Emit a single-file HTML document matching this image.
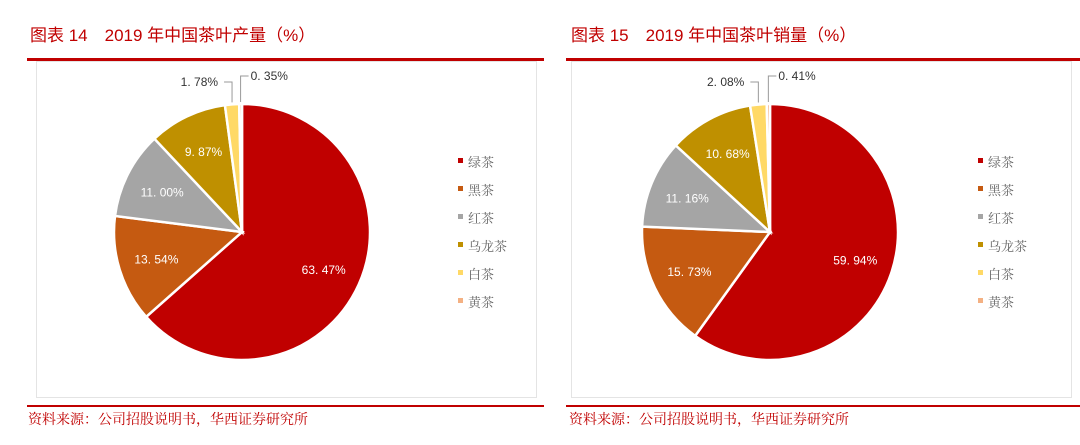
<!DOCTYPE html>
<html><head><meta charset="utf-8">
<style>
body{margin:0;background:#fff;width:1080px;height:445px;overflow:hidden;font-family:"Liberation Sans","Noto Sans CJK SC",sans-serif}
svg{position:absolute;left:0;top:0}
</style></head><body>
<svg width="1080" height="445" viewBox="0 0 1080 445" id="root">
<g>
<text x="30" y="41" font-size="17" fill="#C00000" font-family="'Liberation Sans','Noto Sans CJK SC',sans-serif">图表 14　2019 年中国茶叶产量（%）</text>
<rect x="27" y="58" width="517" height="3" fill="#C00000"/>
<rect x="36.5" y="61.5" width="500" height="336" fill="#fff" stroke="#e4e4e4"/>
<rect x="27" y="405" width="517" height="2" fill="#C00000"/>
<text x="28" y="424" font-size="14" fill="#C00000" font-family="'Noto Serif CJK SC',serif">资料来源：公司招股说明书，华西证券研究所</text>
<g id="pie1"></g>
</g>
<g>
<text x="571" y="41" font-size="17" fill="#C00000" font-family="'Liberation Sans','Noto Sans CJK SC',sans-serif">图表 15　2019 年中国茶叶销量（%）</text>
<rect x="566" y="58" width="514" height="3" fill="#C00000"/>
<rect x="571.5" y="61.5" width="500" height="336" fill="#fff" stroke="#e4e4e4"/>
<rect x="566" y="405" width="514" height="2" fill="#C00000"/>
<text x="569" y="424" font-size="14" fill="#C00000" font-family="'Noto Serif CJK SC',serif">资料来源：公司招股说明书，华西证券研究所</text>
<g id="pie2"></g>
</g>
</svg>
<script>
const categories = ["绿茶","黑茶","红茶","乌龙茶","白茶","黄茶"];
const productionValues = [63.47,13.54,11.00,9.87,1.78,0.35];
const salesValues = [59.94,15.73,11.16,10.68,2.08,0.41];
const colors = ["#C00000","#C55A11","#A5A5A5","#BF9000","#FFD966","#F4B183"];
const NS="http://www.w3.org/2000/svg";
function mk(t,a){const e=document.createElementNS(NS,t);for(const k in a)e.setAttribute(k,a[k]);return e;}
function fmt(v){return v.toFixed(2).replace('.', '. ')+'%';}
function drawPie(gid,values,cx,cy,r,legendX,prefix){
  const g=document.getElementById(gid);
  const total=values.reduce((a,b)=>a+b,0);
  const pt=(ang,rr)=>[cx+rr*Math.sin(ang),cy-rr*Math.cos(ang)];
  let acc=0;
  values.forEach((v,i)=>{
    const a0=acc/total*2*Math.PI; acc+=v; const a1=acc/total*2*Math.PI;
    const [x0,y0]=pt(a0,r),[x1,y1]=pt(a1,r);
    const large=(a1-a0)>Math.PI?1:0;
    const p=mk('path',{d:`M${cx},${cy}L${x0},${y0}A${r},${r} 0 ${large} 1 ${x1},${y1}Z`,fill:colors[i],stroke:'#fff','stroke-width':2.5});
    
    
    g.appendChild(p);
    const mid=(a0+a1)/2;
    let tx,ty,anchor='middle',fill='#fff';
    if(v/total>0.05){
      [tx,ty]=pt(mid,r*0.7); ty+=5;
    } else {
      fill='#333';
      const [ex,ey]=pt(mid,r);
      let lx,ly;
      if(i===values.length-2){lx=ex-8;ly=cy-r-22;tx=lx-6;anchor='end';
        const l=mk('polyline',{points:`${ex},${ey-2} ${ex},${ly} ${lx},${ly}`,fill:'none',stroke:'#999'});
        
        
        g.appendChild(l);}
      else {lx=ex+8;ly=cy-r-28;tx=lx+2;anchor='start';
        const l=mk('polyline',{points:`${ex},${ey-2} ${ex},${ly} ${lx},${ly}`,fill:'none',stroke:'#999'});
        
        
        g.appendChild(l);}
      ty=ly+4;
    }
    const t=mk('text',{x:tx,y:ty,'text-anchor':anchor,'font-size':12,fill:fill});
    t.textContent=fmt(v);
    
    
    g.appendChild(t);
  });
  categories.forEach((c,i)=>{
    const y=162+i*28;
    const s=mk('rect',{x:legendX,y:y-4,width:5,height:5,fill:colors[i]});
    
    
    g.appendChild(s);
    const t=mk('text',{x:legendX+10,y:y+5,'font-size':13,fill:'#666','font-family':"'Noto Serif CJK SC',serif"});
    t.textContent=c;
    
    
    g.appendChild(t);
  });
}
drawPie('pie1',productionValues,242,232,128,458,'production');
drawPie('pie2',salesValues,770,232,128,978,'sales');
</script>
</body></html>
